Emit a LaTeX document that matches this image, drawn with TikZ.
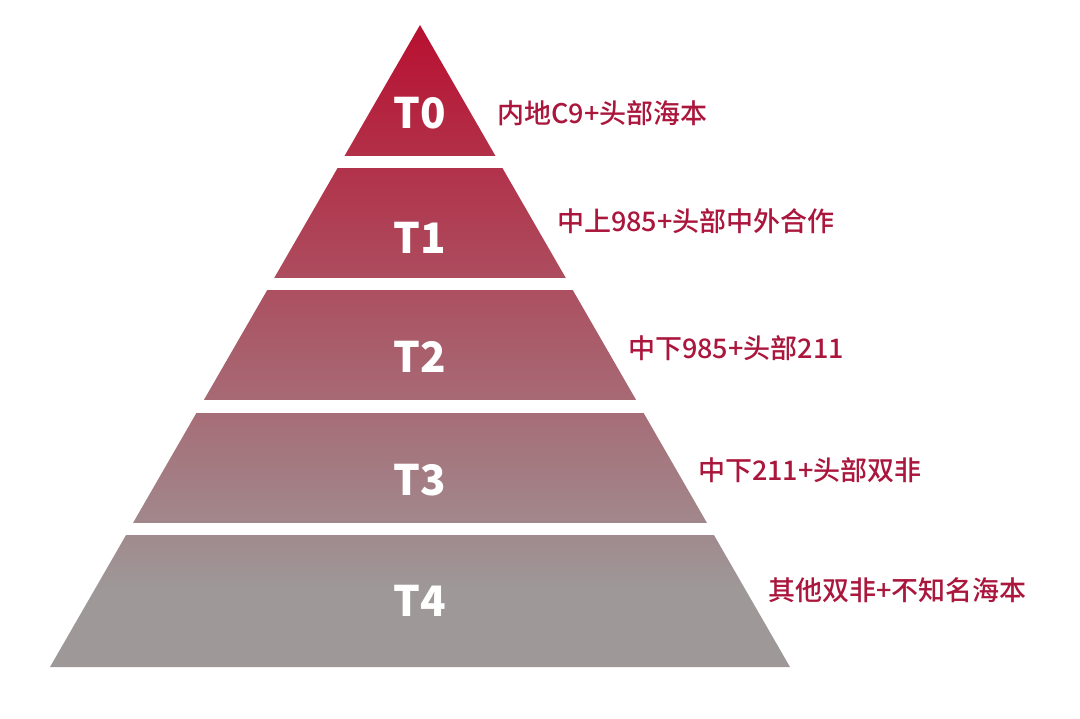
\documentclass[tikz,border=0pt]{standalone}
\usepackage{fontspec}
\setmainfont{Noto Sans CJK SC}
\newfontfamily\labelfont{Noto Sans CJK SC Medium}
\usepackage{tikz}

\definecolor{tiertop}{RGB}{184,16,48}
\definecolor{tierbottom}{RGB}{158,152,152}
\definecolor{labelred}{RGB}{170,22,60}
\pgfdeclareverticalshading{tiershade}{100bp}{color(0bp)=(tierbottom); color(31bp)=(tierbottom); color(75bp)=(tiertop); color(100bp)=(tiertop)}

\begin{document}
\begin{tikzpicture}[x=1pt,y=-1pt,
    tiername/.style={text=white,font=\fontsize{42}{46}\selectfont\bfseries,inner sep=0},
    tierlabel/.style={anchor=west,text=labelred,font=\labelfont\fontsize{27}{31}\selectfont,inner sep=0}]
        \useasboundingbox (0,0) rectangle (1080,719);
        \shade[shading=tiershade] (420,25) -- (790,667) -- (50,667) -- cycle;
        \fill[white] (0,156) rectangle (1080,168);
        \fill[white] (0,278) rectangle (1080,290);
        \fill[white] (0,400) rectangle (1080,413);
        \fill[white] (0,523) rectangle (1080,535);
        \node[tiername] (t0) at (420,113) {T0};
        \node[tiername] (t1) at (420,238) {T1};
        \node[tiername] (t2) at (420,357) {T2};
        \node[tiername] (t3) at (420,480) {T3};
        \node[tiername] (t4) at (420,601) {T4};
        \node[tierlabel] (l0) at (497,113) {内地C9+头部海本};
        \node[tierlabel] (l1) at (557,221) {中上985+头部中外合作};
        \node[tierlabel] (l2) at (628,348) {中下985+头部211};
        \node[tierlabel] (l3) at (698,470) {中下211+头部双非};
        \node[tierlabel] (l4) at (768,590) {其他双非+不知名海本};
\end{tikzpicture}
\end{document}
